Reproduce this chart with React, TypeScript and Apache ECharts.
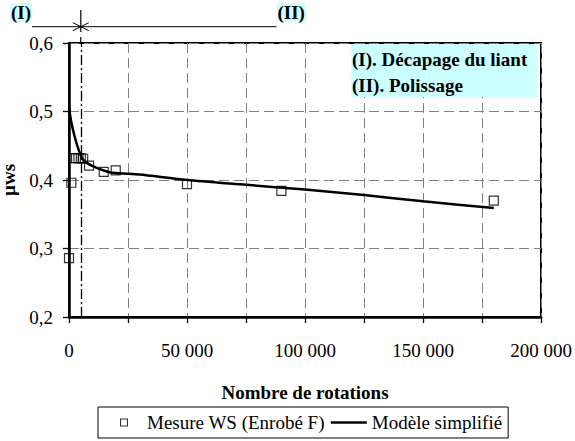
import React, { useEffect, useRef } from "react";
import * as echarts from "echarts";

// Measured points (Mesure WS, Enrobé F)
const rotations = [0, 1000, 2000, 3000, 4000, 5000, 6000, 8500, 14700, 19800, 50000, 90000, 180000];
const mesureWS = [0.286, 0.396, 0.432, 0.432, 0.432, 0.432, 0.431, 0.421, 0.412, 0.414, 0.394, 0.384, 0.37];

// Simplified model curve
const modelRotations = [0, 1000, 2500, 4000, 5500, 7500, 11500, 17500, 25000, 30000, 50000, 75000, 100000, 125000, 150000, 180000];
const modelValues = [0.506, 0.484, 0.462, 0.445, 0.432, 0.425, 0.418, 0.411, 0.409, 0.408, 0.4, 0.393, 0.386, 0.378, 0.369, 0.359];

const seriesNames = ["Mesure WS (Enrobé F)", "Modèle simplifié"];
const phaseBoundary = 5000;
const phaseLabels = ["(I)", "(II)"];
const annotationLines = ["(I). Décapage du liant", "(II). Polissage"];
const xAxisName = "Nombre de rotations";
const yAxisName = "µws";

const FONT = "Liberation Serif";
const CYAN = "#ccffff";

function fmtThousands(v: number): string {
  return String(Math.round(v)).replace(/\B(?=(\d{3})+(?!\d))/g, " ");
}

export default function App() {
  const ref = useRef<HTMLDivElement>(null);

  useEffect(() => {
    const chart = echarts.init(ref.current!, null, { renderer: "svg" });
    const option: any = {
      animation: false,
      backgroundColor: "#fff",
      textStyle: { fontFamily: FONT },
      grid: {
        left: 69,
        top: 43,
        width: 472,
        height: 274,
        show: true,
        borderColor: "#000",
        borderWidth: 2,
        backgroundColor: "transparent",
        containLabel: false,
        outerBoundsMode: "none",
      },
      xAxis: {
        type: "value",
        min: 0,
        max: 200000,
        interval: 25000,
        name: xAxisName,
        nameLocation: "middle",
        nameGap: 66,
        nameTextStyle: { fontFamily: FONT, fontSize: 19, fontWeight: "bold", color: "#000" },
        axisLine: { show: true, onZero: false, lineStyle: { color: "#000", width: 2.5 } },
        axisTick: { show: true, inside: false, length: 6, lineStyle: { color: "#000", width: 1.3 } },
        axisLabel: {
          margin: 24,
          fontFamily: FONT,
          fontSize: 19,
          color: "#000",
          formatter: (v: number) => (v % 50000 === 0 ? fmtThousands(v) : ""),
        },
        splitLine: { show: true, lineStyle: { color: "#808080", type: [10, 5], width: 1 } },
      },
      yAxis: {
        type: "value",
        min: 0.2,
        max: 0.6,
        interval: 0.1,
        name: yAxisName,
        nameLocation: "middle",
        nameRotate: 90,
        nameGap: 47,
        nameTextStyle: { fontFamily: FONT, fontSize: 19, fontWeight: "bold", color: "#000" },
        axisLine: { show: true, onZero: false, lineStyle: { color: "#000", width: 2.5 } },
        axisTick: { show: true, inside: false, length: 6, lineStyle: { color: "#000", width: 1.3 } },
        axisLabel: {
          margin: 16,
          fontFamily: FONT,
          fontSize: 19,
          color: "#000",
          formatter: (v: number) => v.toFixed(1).replace(".", ","),
        },
        splitLine: { show: true, lineStyle: { color: "#808080", type: [10, 5], width: 1 } },
      },
      legend: {
        left: 98,
        top: 407,
        orient: "horizontal",
        itemWidth: 36,
        itemHeight: 8,
        itemGap: 6,
        padding: [5, 6, 5, 10],
        borderColor: "#000",
        borderWidth: 1,
        backgroundColor: "#fff",
        textStyle: { fontFamily: FONT, fontSize: 19, color: "#000", lineHeight: 21 },
        data: [
          {
            name: seriesNames[0],
            icon: "path://M0,0L0,0M36,8L36,8M13.5,-0.5L22.5,-0.5L22.5,8.5L13.5,8.5ZM14.7,0.7L14.7,7.3L21.3,7.3L21.3,0.7Z",
            itemStyle: { color: "#000", borderWidth: 0 },
          },
          {
            name: seriesNames[1],
            icon: "path://M0,0L0,0M36,8L36,8M0,2.8L36,2.8L36,5.2L0,5.2Z",
            itemStyle: { color: "#000", borderWidth: 0 },
          },
        ],
      },
      series: [
        {
          name: seriesNames[0],
          type: "scatter",
          symbol: "rect",
          symbolSize: 9,
          itemStyle: { color: "rgba(255,255,255,0)", borderColor: "#000", borderWidth: 1.2 },
          data: rotations.map((r, i) => [r, mesureWS[i]]),
          z: 3,
        },
        {
          name: seriesNames[1],
          type: "line",
          symbol: "none",
          smooth: 0.25,
          lineStyle: { color: "#000", width: 2.5 },
          itemStyle: { color: "#000" },
          data: modelRotations.map((r, i) => [r, modelValues[i]]),
          z: 4,
          markLine: {
            silent: true,
            symbol: ["none", "none"],
            label: { show: false },
            lineStyle: { color: "#000", type: [10, 3, 2, 3], width: 1.3 },
            data: [{ xAxis: phaseBoundary }],
          },
        },
      ],
    };
    chart.setOption(option);

    const xb = chart.convertToPixel({ xAxisIndex: 0 }, phaseBoundary) as number;
    const top = chart.convertToPixel({ yAxisIndex: 0 }, 0.6) as number;
    const arrowY = 26.7;
    const textStyleBold = { fontFamily: FONT, fontSize: 19, fontWeight: "bold", fill: "#000" };

    chart.setOption({
      graphic: [
        { type: "rect", shape: { x: 10, y: 3, width: 22, height: 19 }, style: { fill: CYAN }, z: 10 },
        {
          type: "text",
          style: { ...textStyleBold, text: phaseLabels[0], x: 11, y: 12.5, verticalAlign: "middle", align: "left" },
          z: 11,
        },
        { type: "rect", shape: { x: 276.5, y: 3, width: 29, height: 19 }, style: { fill: CYAN }, z: 10 },
        {
          type: "text",
          style: { ...textStyleBold, text: phaseLabels[1], x: 277.5, y: 12.5, verticalAlign: "middle", align: "left" },
          z: 11,
        },
        {
          type: "line",
          shape: { x1: 32, y1: arrowY, x2: 276.5, y2: arrowY },
          style: { stroke: "#000", lineWidth: 1 },
          z: 10,
        },
        {
          type: "polyline",
          shape: { points: [[xb - 8, arrowY - 4], [xb, arrowY], [xb - 8, arrowY + 4]] },
          style: { stroke: "#000", lineWidth: 1, fill: null },
          z: 10,
        },
        {
          type: "polyline",
          shape: { points: [[xb + 8, arrowY - 4], [xb, arrowY], [xb + 8, arrowY + 4]] },
          style: { stroke: "#000", lineWidth: 1, fill: null },
          z: 10,
        },
        {
          type: "line",
          shape: { x1: xb, y1: 10, x2: xb, y2: 32 },
          style: { stroke: "#000", lineWidth: 1.2 },
          z: 10,
        },
        {
          type: "line",
          shape: { x1: xb, y1: 37, x2: xb, y2: top },
          style: { stroke: "#000", lineWidth: 1.2 },
          z: 10,
        },
        { type: "rect", shape: { x: 351, y: 44, width: 186, height: 53 }, style: { fill: CYAN }, z: 10 },
        {
          type: "text",
          style: { ...textStyleBold, text: annotationLines[0], x: 352, y: 59.5, verticalAlign: "middle", align: "left" },
          z: 11,
        },
        {
          type: "text",
          style: { ...textStyleBold, text: annotationLines[1], x: 352, y: 85, verticalAlign: "middle", align: "left" },
          z: 11,
        },
      ],
    });

    return () => chart.dispose();
  }, []);

  return (
    <div
      ref={ref}
      style={{ position: "fixed", left: 0, top: 0, width: 575, height: 441, background: "#fff" }}
    />
  );
}
